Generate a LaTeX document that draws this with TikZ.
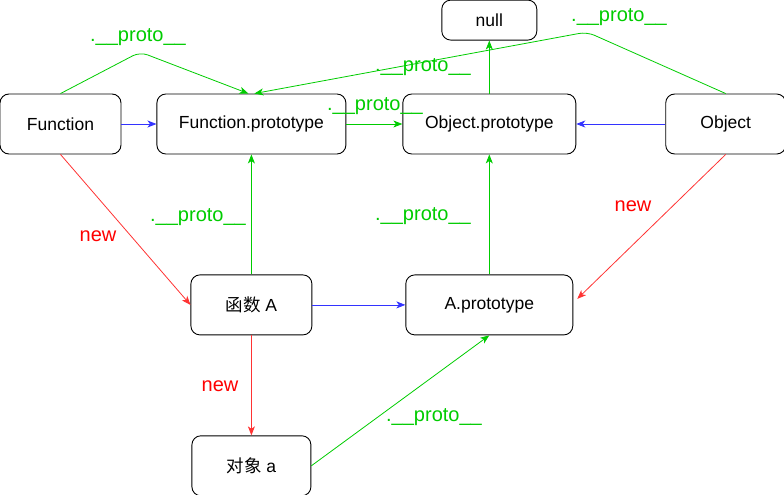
\documentclass[tikz,border=0pt]{standalone}
\usepackage{fontspec}
\setmainfont{Liberation Sans}
\newfontfamily\cjkfont{Noto Sans CJK SC}
\usetikzlibrary{positioning,arrows.meta}
\definecolor{protogreen}{HTML}{00CC00}
\definecolor{linkblue}{HTML}{3333FF}
\definecolor{newred}{HTML}{FF3333}

\begin{document}
\begin{tikzpicture}[
      x=1pt, y=-1pt,
      box/.style={draw, rounded corners=9pt, line width=0.9pt, minimum height=60pt, inner sep=0pt, font=\fontsize{17.5}{20}\selectfont},
      arr/.style={-{Stealth[length=9pt,width=7pt,inset=2.5pt]}, line width=0.8pt},
      proto/.style={arr, draw=protogreen},
      link/.style={arr, draw=linkblue},
      newarr/.style={arr, draw=newred},
      lbl/.style={inner sep=0pt, font=\fontsize{20}{22}\selectfont},
    ]
    \useasboundingbox (0,0) rectangle (784,495);
    \node[box, minimum width=121pt] (fun) at (60.5,124) {Function};
    \node[box, minimum width=189pt, right=35pt of fun] (funproto) {Function.prototype};
    \node[box, minimum width=173pt, right=56pt of funproto] (objproto) {Object.prototype};
    \node[box, minimum width=120pt, right=89pt of objproto] (obj) {Object};
    \node[box, minimum width=95pt, minimum height=40pt, above=53pt of objproto] (null) {null};
    \node[box, minimum width=121pt, below=120pt of funproto] (fa) {{\cjkfont 函数} A};
    \node[box, minimum width=167pt, below=120pt of objproto] (aproto) {A.prototype};
    \node[box, minimum width=119pt, below=100pt of fa] (oa) {{\cjkfont 对象} a};
    \coordinate (bendF) at (140,52);
    \coordinate (bendO) at (587,32);
    % blue links
    \draw[link] (fun) -- (funproto);
    \draw[link] (obj) -- (objproto);
    \draw[link] (fa) -- (aproto);
    % __proto__ chain
    \draw[proto] (funproto) -- (objproto);
    \draw[proto] (objproto) -- (null);
    \draw[proto] (fa) -- (funproto);
    \draw[proto] (aproto) -- (objproto);
    \draw[proto] (oa.east) -- (aproto.south);
    \draw[proto, rounded corners=8pt] (fun.north) -- (bendF) -- ([xshift=-3pt]funproto.north);
    \draw[proto, rounded corners=8pt] (obj.north) -- (bendO) -- ([xshift=3pt]funproto.north);
    % new
    \draw[newarr] (fun.south) -- (fa.west);
    \draw[newarr] (obj.south) -- ([shift={(4pt,6pt)}]aproto.east);
    \draw[newarr] (fa) -- (oa);
    % labels
    \node[lbl, text=protogreen] (lblfun) at (138,37) {.\_\_proto\_\_};
    \node[lbl, text=protogreen] (lblfp) at (375,106) {.\_\_proto\_\_};
    \node[lbl, text=protogreen] (lblobj) at (619,17) {.\_\_proto\_\_};
    \node[lbl, text=protogreen] (lblobjb) at (423,67) {.\_\_proto\_\_};
    \node[lbl, text=protogreen] (lblfa) at (198,217) {.\_\_proto\_\_};
    \node[lbl, text=protogreen] (lblap) at (423,216) {.\_\_proto\_\_};
    \node[lbl, text=protogreen] (lbloa) at (434,417) {.\_\_proto\_\_};
    \node[lbl, text=red] (newfun) at (98,236) {new};
    \node[lbl, text=red] (newobj) at (633,206) {new};
    \node[lbl, text=red] (newfa) at (220,386) {new};
  \end{tikzpicture}
\end{document}
